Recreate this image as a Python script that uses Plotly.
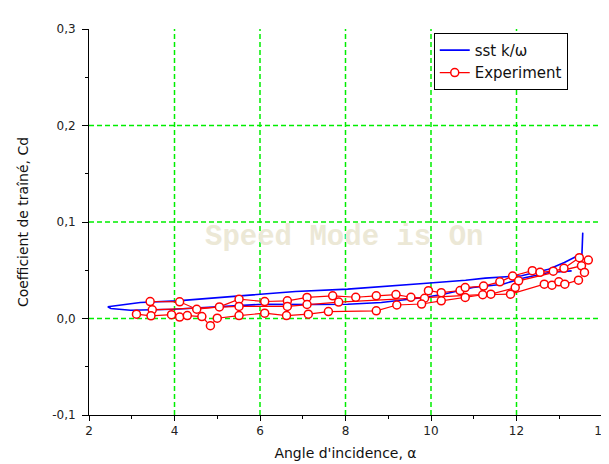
import plotly.graph_objects as go

# ---- data ----
sst_x = [13.29, 12.76, 12.14, 11.68, 10.98, 10.29, 9.83, 8.84, 8.05, 7.29, 6.06, 4.91, 3.99, 2.97, 2.51,
         2.44, 3.20, 4.06, 5.14, 6.06, 6.83, 8.05, 9.07, 9.82, 10.81, 11.27, 12.12, 12.75, 13.12, 13.44, 13.53, 13.55]
sst_y = [0.0494, 0.0477, 0.0418, 0.0355, 0.0321, 0.0252, 0.0218, 0.0166, 0.0148, 0.0145, 0.0148, 0.0121, 0.0096, 0.0086, 0.0104,
         0.0121, 0.0166, 0.0183, 0.0218, 0.0252, 0.0280, 0.0304, 0.0342, 0.0363, 0.0397, 0.0418, 0.0443, 0.0511, 0.0580, 0.0653, 0.0660, 0.0890]

exp_upper_x = [3.43, 4.12, 4.52, 5.05, 5.51, 6.11, 6.64, 7.10, 7.70, 8.24, 8.72, 9.18, 9.53, 9.85, 9.94,
               10.24, 10.68, 10.80, 11.23, 11.61, 11.91, 12.37, 12.55, 12.86, 13.11, 13.47, 13.68]
exp_upper_y = [0.0176, 0.0173, 0.0096, 0.0120, 0.0200, 0.0176, 0.0183, 0.0218, 0.0235, 0.0220, 0.0235, 0.0248, 0.0220, 0.0210, 0.0288,
               0.0268, 0.0290, 0.0320, 0.0336, 0.0380, 0.0440, 0.0495, 0.0478, 0.0490, 0.0520, 0.0630, 0.0605]

exp_mid_x = [3.48, 5.51, 6.64, 7.10, 7.84, 11.40, 11.97, 12.05, 13.52, 13.59]
exp_mid_y = [0.0090, 0.0125, 0.0125, 0.0145, 0.0170, 0.0252, 0.0320, 0.0390, 0.0546, 0.0477]

exp_lower_x = [3.11, 3.45, 3.93, 4.12, 4.30, 4.64, 4.84, 5.00, 5.51, 6.11, 6.62, 7.13, 7.60, 8.72, 9.20,
               9.78, 10.24, 10.80, 11.21, 11.86, 12.65, 12.83, 12.99, 13.13, 13.45]
exp_lower_y = [0.0045, 0.0028, 0.0040, 0.0015, 0.0030, 0.0020, -0.0075, 0.0003, 0.0030, 0.0055, 0.0030, 0.0045, 0.0072, 0.0080, 0.0140,
               0.0150, 0.0183, 0.0218, 0.0246, 0.0252, 0.0356, 0.0345, 0.0380, 0.0356, 0.0397]

x_tick_vals = [2, 4, 6, 8, 10, 12, 14]
x_tick_text = ["2", "4", "6", "8", "10", "12", "14"]
y_tick_vals = [-0.1, 0.0, 0.1, 0.2, 0.3]
y_tick_text = ["-0,1", "0,0", "0,1", "0,2", "0,3"]
grid_x = [4, 6, 8, 10, 12]
grid_y = [0.0, 0.1, 0.2]

# ---- build experiment trace (bands separated by gaps) ----
exp_x = exp_upper_x + [None] + exp_mid_x + [None] + exp_lower_x
exp_y = exp_upper_y + [None] + exp_mid_y + [None] + exp_lower_y

fig = go.Figure()
fig.add_trace(go.Scatter(
    x=sst_x, y=sst_y, mode="lines", name="sst k/\u03c9",
    line=dict(color="#0000FF", width=1.6)))
fig.add_trace(go.Scatter(
    x=exp_x, y=exp_y, mode="lines+markers", name="Experiment",
    connectgaps=False,
    line=dict(color="#FF0000", width=1.2),
    marker=dict(symbol="circle", size=8, color="white",
                line=dict(color="#FF0000", width=1.5))))

grid_style = dict(color="#00EE00", width=1.5, dash="5px,3px")
shapes = []
for gx in grid_x:
    shapes.append(dict(type="line", xref="x", yref="paper", x0=gx, x1=gx, y0=0, y1=1,
                       line=grid_style, layer="below"))
for gy in grid_y:
    shapes.append(dict(type="line", xref="paper", yref="y", x0=0, x1=1, y0=gy, y1=gy,
                       line=grid_style, layer="below"))

tick_font = dict(family="DejaVu Sans", size=12, color="#222222")
title_font = dict(family="DejaVu Sans", size=14, color="#111111")

fig.update_layout(
    width=609, height=464,
    margin=dict(l=81, r=7, t=21, b=57),
    paper_bgcolor="white", plot_bgcolor="white",
    shapes=shapes,
    showlegend=True,
    legend=dict(x=0.672, y=0.99, xanchor="left", yanchor="top",
                bgcolor="white", bordercolor="black", borderwidth=1,
                font=dict(family="DejaVu Sans", size=15, color="#111111")),
    xaxis=dict(range=[2, 14], tickvals=x_tick_vals, ticktext=x_tick_text,
               showgrid=False, zeroline=False, showline=True, linecolor="black", linewidth=1,
               ticks="outside", ticklen=5, tickcolor="black", tickfont=tick_font,
               ticklabeloverflow="allow",
               minor=dict(dtick=1, ticks="outside", ticklen=3, tickcolor="black", showgrid=False),
               title=dict(text="Angle d'incidence, \u03b1", font=title_font, standoff=10)),
    yaxis=dict(range=[-0.1, 0.3], tickvals=y_tick_vals, ticktext=y_tick_text,
               showgrid=False, zeroline=False, showline=True, linecolor="black", linewidth=1,
               ticks="outside", ticklen=6, tickcolor="black", tickfont=tick_font,
               ticklabelstandoff=4,
               minor=dict(dtick=0.05, ticks="outside", ticklen=3, tickcolor="black", showgrid=False),
               title=dict(text="Coefficient de traîné, Cd", font=title_font, standoff=20)),
    annotations=[dict(text="<b>Speed Mode is On</b>", xref="paper", yref="paper",
                      x=0.4976, y=0.46, showarrow=False,
                      font=dict(family="Liberation Mono", size=29, color="#ece8d6"))],
)

fig.write_html("out.html")
